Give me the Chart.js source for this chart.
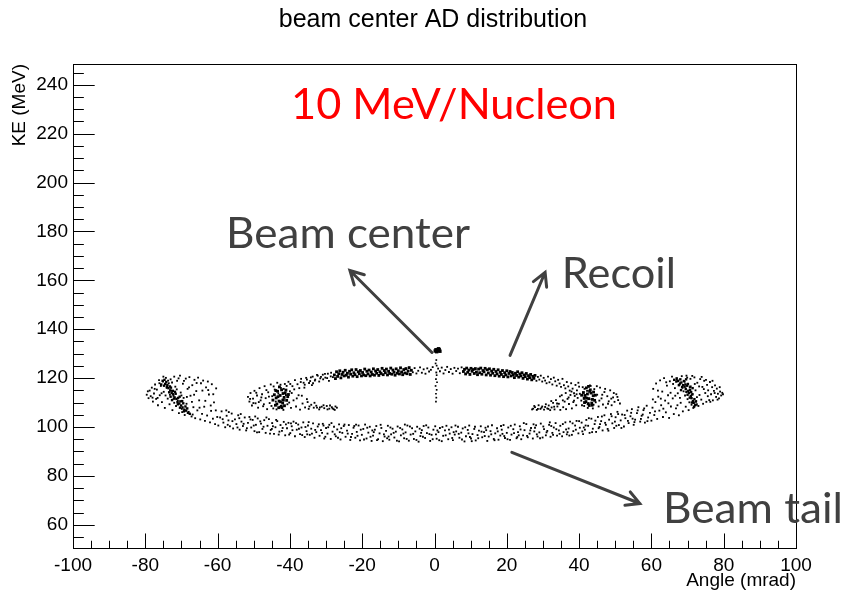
<!DOCTYPE html>
<html>
<head>
<meta charset="utf-8">
<script src="https://cdn.jsdelivr.net/npm/chart.js@4/dist/chart.umd.min.js"></script>
<style>
  html, body { margin: 0; padding: 0; background: #ffffff; }
  canvas { display: block; }
</style>
</head>
<body>
<canvas id="c" width="846" height="595"></canvas>
<script>
// ---------------- DATA ----------------
const chartTitle = 'beam center AD distribution';
const xTickValues = [-100, -80, -60, -40, -20, 0, 20, 40, 60, 80, 100];
const yTickValues = [60, 80, 100, 120, 140, 160, 180, 200, 220, 240];
const xRange = [-100, 100];
const yRange = [50.5, 248.5];

// Beam tail: left horn
const tailLeftHorn = [
[-79.6,113.2],[-79.1,111.8],[-78.8,114.9],[-78.5,112.6],[-78.2,116.1],[-77.9,110.4],[-77.6,113.7],[-77.3,117.4],[-77.0,111.5],[-76.8,115.3],[-76.5,108.9],[-76.2,119.2],[-76.0,113.0],[-75.7,116.8],[-75.4,110.2],[-75.1,118.6],[-74.9,114.4],[-74.6,107.8],[-74.3,120.1],[-74.1,116.0],[-73.8,111.6],[-73.5,117.9],[-73.3,109.3],[-73.0,119.5],[-72.8,114.8],[-72.5,106.9],[-72.2,112.7],[-72.0,120.6],[-71.7,116.5],[-71.5,108.6],[-71.2,118.9],[-71.0,110.8],[-70.7,105.7],[-70.4,121.0],[-70.2,114.1],[-69.9,107.4],[-69.6,117.7],[-69.4,111.9],[-69.1,104.9],[-68.8,119.8],[-68.6,109.5],[-68.3,115.6],[-68.0,106.2],[-67.8,120.4],[-67.5,112.8],[-67.2,104.3],[-67.0,117.1],[-66.7,108.1],[-66.4,119.3],[-66.2,103.6],[-65.9,114.7],[-65.6,106.8],[-65.4,120.2],[-65.1,110.9],[-64.8,103.1],[-64.6,117.9],[-64.3,105.4],[-64.0,119.0],[-63.7,108.3],[-63.5,102.5],[-63.2,116.2],[-62.9,104.7],[-62.7,118.6],[-62.4,113.3],[-62.1,101.9],[-61.8,106.6],[-61.6,117.5],[-61.3,103.4],[-61.0,110.1],[-60.7,101.2],[-60.4,115.8],[-60.1,104.1],
[-79.3,114.6],[-78.0,112.0],[-77.4,115.6],[-76.6,111.9],[-76.1,117.9],[-75.5,113.8],[-75.0,120.6],[-74.4,112.9],[-73.7,119.0],[-73.2,113.2],[-72.6,118.2],[-72.0,109.9],[-71.3,115.4],[-70.8,119.9],[-70.0,112.9],[-69.3,118.9],[-68.5,112.3],[-67.9,116.2],[-67.1,110.3],[-66.5,113.2],[-65.8,118.0],[-65.0,107.9],[-64.2,114.9],[-63.4,110.7],[-62.6,115.1],[-61.9,108.8],[-61.2,113.4],[-60.5,106.8],[-66.9,105.1],[-69.8,106.1]
];
// Beam tail: dense streaks inside both horns
const tailHornCores = [
[-74.5,117.6],[-74.0,116.4],[-73.6,115.9],[-73.1,115.0],[-72.7,113.9],[-72.3,113.4],[-71.9,112.1],[-71.4,111.5],[-71.1,110.2],[-70.6,109.6],[-70.1,108.8],[-69.7,108.0],[-69.2,107.1],[-68.7,106.7],[-68.2,105.8],[-73.9,117.2],[-73.2,116.6],[-72.4,114.8],[-71.6,113.6],[-70.9,111.9],[-70.3,110.5],[-69.5,109.7],[-68.9,108.4],
[-75.2,118.9],[-74.8,116.9],[-74.2,118.4],[-73.4,114.2],[-72.9,116.1],[-72.1,111.6],[-71.8,114.4],[-71.0,109.3],[-70.5,112.4],[-69.8,110.6],[-69.3,106.4],[-68.4,107.6],[-67.7,105.4],[-75.6,117.4],[-74.7,119.3],[-73.0,112.4],[-70.4,107.9],[-72.6,111.0],
[66.3,119.3],[66.9,118.6],[67.4,118.9],[67.9,117.8],[68.3,118.2],[68.8,117.1],[69.2,116.5],[69.5,115.6],[69.9,116.9],[70.2,114.8],[70.4,113.9],[70.7,115.2],[70.9,112.7],[71.1,111.8],[71.3,113.3],[71.5,110.6],[71.7,109.9],[71.9,111.4],[72.1,108.9],[70.1,117.6],[69.0,118.8],[71.0,114.3],
[67.0,119.9],[67.6,117.1],[68.0,119.5],[68.5,116.4],[69.4,117.4],[69.7,114.4],[70.0,113.2],[70.6,112.0],[71.2,110.0],[71.8,108.3],[72.3,110.4],[70.8,116.5],[69.6,119.5],[72.5,109.2],[71.4,115.9],[68.2,115.1]
];
// Beam tail: lower band
const tailBand = [
[-59.8,100.6],[-59.3,103.9],[-58.9,106.4],[-58.4,101.8],[-57.9,99.9],[-57.5,104.6],[-57.0,102.7],[-56.6,100.3],[-56.1,105.5],[-55.7,99.4],[-55.2,103.1],[-54.8,101.2],[-54.3,104.8],[-53.9,98.9],[-53.4,102.2],[-53.0,100.4],[-52.5,103.9],[-52.1,98.6],[-51.6,101.7],[-51.2,104.1],[-50.7,99.8],[-50.3,102.9],[-49.8,98.3],[-49.4,100.9],[-48.9,103.5],[-48.5,97.9],[-48.0,101.4],[-47.6,99.2],[-47.1,102.8],[-46.7,97.6],[-46.2,100.5],[-45.8,103.2],[-45.3,98.8],[-44.9,101.6],[-44.4,97.2],[-44.0,99.9],[-43.5,102.4],[-43.1,96.9],[-42.6,100.8],[-42.2,98.4],[-41.7,102.1],[-41.3,96.6],[-40.8,99.5],[-40.4,101.7],[-39.9,97.5],
[-39.5,100.3],[-39.0,102.2],[-38.6,96.2],[-38.1,98.9],[-37.7,101.0],[-37.2,97.1],[-36.8,99.8],[-36.3,101.9],[-35.9,95.9],[-35.4,98.3],[-35.0,100.6],[-34.5,96.8],[-34.1,99.3],[-33.6,101.5],[-33.2,95.6],[-32.7,97.9],[-32.3,100.2],[-31.8,96.4],[-31.4,98.7],[-30.9,101.3],[-30.5,95.3],[-30.0,99.6],[-29.6,97.3],[-29.1,100.9],[-28.7,95.1],[-28.2,98.1],[-27.8,100.1],[-27.3,96.2],[-26.9,99.0],[-26.4,101.1],[-26.0,94.9],[-25.5,97.6],[-25.1,100.4],[-24.6,96.0],[-24.2,98.5],[-23.7,100.8],[-23.3,94.7],[-22.8,97.2],[-22.4,99.7],[-21.9,95.6],[-21.5,98.0],[-21.0,100.6],[-20.6,94.5],[-20.1,96.8],
[-19.7,99.2],[-19.2,101.0],[-18.8,95.3],[-18.3,97.7],[-17.9,100.1],[-17.4,94.3],[-17.0,96.5],[-16.5,98.9],[-16.1,100.4],[-15.6,95.0],[-15.2,97.4],[-14.7,99.6],[-14.3,94.2],[-13.8,96.1],[-13.4,98.4],[-12.9,100.5],[-12.5,94.8],[-12.0,97.0],[-11.6,99.3],[-11.1,95.7],[-10.7,98.1],[-10.2,100.2],[-9.8,94.1],[-9.3,96.6],[-8.9,99.0],[-8.4,95.4],[-8.0,97.8],[-7.5,100.6],[-7.1,94.4],[-6.6,96.9],[-6.2,99.5],[-5.7,95.1],[-5.3,98.2],[-4.8,100.1],[-4.4,94.0],[-3.9,96.3],[-3.5,98.7],[-3.0,100.4],[-2.6,95.5],[-2.1,97.5],[-1.7,99.8],[-1.2,94.3],[-0.8,96.8],[-0.3,98.9],
[0.2,100.3],[0.6,95.2],[1.1,97.9],[1.5,99.6],[2.0,94.2],[2.4,96.4],[2.9,98.6],[3.3,100.5],[3.8,95.0],[4.2,97.3],[4.7,99.9],[5.1,94.6],[5.6,96.9],[6.0,98.2],[6.5,100.1],[6.9,95.6],[7.4,97.7],[7.8,99.4],[8.3,94.1],[8.7,96.2],[9.2,98.8],[9.6,100.6],[10.1,95.3],[10.5,97.1],[11.0,99.2],[11.4,94.5],[11.9,96.7],[12.3,98.5],[12.8,100.3],[13.2,95.8],[13.7,97.9],[14.1,99.7],[14.6,94.3],[15.0,96.1],[15.5,98.3],[15.9,100.7],[16.4,95.1],[16.8,97.4],[17.3,99.5],[17.7,94.8],[18.2,96.5],[18.6,98.9],[19.1,100.8],[19.5,95.5],
[20.0,97.6],[20.4,99.8],[20.9,94.7],[21.3,96.9],[21.8,99.1],[22.2,101.0],[22.7,95.4],[23.1,97.9],[23.6,100.3],[24.0,95.0],[24.5,96.6],[24.9,98.7],[25.4,101.2],[25.8,95.8],[26.3,97.3],[26.7,99.6],[27.2,95.3],[27.6,98.2],[28.1,100.7],[28.5,96.1],[29.0,97.8],[29.4,101.4],[29.9,95.7],[30.3,99.1],[30.8,96.6],[31.2,98.4],[31.7,100.9],[32.1,96.0],[32.6,97.6],[33.0,99.8],[33.5,101.6],[33.9,96.5],[34.4,98.6],[34.8,100.5],[35.3,96.2],[35.7,97.9],[36.2,101.9],[36.6,97.0],[37.1,99.4],[37.5,102.2],[38.0,96.8],[38.4,98.3],[38.9,100.6],[39.3,102.5],[39.8,97.4],
[40.2,99.7],[40.7,101.8],[41.1,97.1],[41.6,98.9],[42.0,102.9],[42.5,100.5],[42.9,97.6],[43.4,103.4],[43.8,99.3],[44.3,101.2],[44.7,98.0],[45.2,104.1],[45.6,100.0],[46.1,102.4],[46.5,98.6],[47.0,104.8],[47.4,100.9],[47.9,99.2],[48.3,103.0],[48.8,105.3],[49.2,101.5],[49.7,99.6],[50.1,104.0],[50.6,106.2],[51.0,100.8],[51.5,102.7],[51.9,105.1],[52.4,100.2],[52.8,103.6],[53.3,106.7],[53.7,101.6],[54.2,104.4],[54.6,107.3],[55.1,100.9],[55.5,103.0],[56.0,105.7],[56.4,108.1],[56.9,102.2],[57.3,104.6],[57.8,106.9],[58.2,101.8],[58.7,108.7],[59.1,103.9],[59.6,105.8]
];
const tailBandExtra = [
[-58.6,103.2],[-57.2,100.9],[-56.9,106.1],[-55.9,102.4],[-54.5,99.8],[-53.6,105.3],[-52.8,101.3],[-51.9,99.5],[-50.9,103.1],[-50.0,100.6],[-49.1,97.8],[-48.2,102.3],[-47.3,100.1],[-46.5,103.9],[-45.5,97.3],[-44.7,100.3],[-43.8,102.9],[-42.9,98.1],[-42.0,99.6],[-41.1,101.1],[-40.2,96.9],[-39.3,98.7],[-38.3,101.6],[-37.5,99.3],[-36.6,96.7],[-35.7,100.0],[-34.8,102.0],[-33.9,97.3],[-33.0,98.8],[-32.0,101.1],[-31.1,97.6],[-30.2,96.0],[-29.4,99.9],[-28.5,101.6],[-27.6,97.0],[-26.7,95.6],[-25.8,99.5],[-24.9,101.0],[-24.0,97.3],[-23.1,95.9],[-22.2,100.4],[-21.3,96.4],[-20.4,98.9],[-19.5,94.9],[-18.6,99.7],[-17.7,96.0],[-16.8,97.9],[-15.9,94.6],[-14.9,100.9],[-14.0,97.0],[-13.1,95.4],[-12.2,99.8],[-11.3,97.6],[-10.4,94.4],[-9.5,99.6],[-8.6,97.3],[-7.7,95.1],[-6.8,100.2],[-5.9,97.2],[-5.0,94.7],[-4.1,99.3],[-3.2,96.0],[-2.3,100.7],[-1.4,97.1],[-0.5,95.0],[0.4,97.0],[1.3,94.6],[2.2,100.0],[3.1,96.6],[4.0,98.9],[4.9,95.5],[5.8,100.6],[6.7,97.2],[7.6,94.9],[8.5,99.9],[9.4,97.4],[10.3,94.2],[11.2,100.1],[12.1,95.4],[13.0,98.1],[13.9,96.3],[14.8,100.2],[15.7,97.0],[16.6,94.6],[17.5,98.2],[18.4,100.4],[19.3,96.3],[20.2,95.0],[21.1,100.5],[22.0,97.5],[22.9,95.9],[23.8,99.0],[24.7,101.6],[25.6,96.4],[26.5,98.6],[27.4,101.1],[28.3,97.0],[29.2,95.4],[30.1,100.2],[31.0,97.8],[31.9,101.9],[32.8,96.8],[33.7,99.1],[34.6,97.2],[35.5,101.2],[36.4,99.0],[37.3,96.5],[38.2,101.5],[39.1,98.9],[40.0,102.4],[40.9,98.2],[41.8,100.6],[42.7,103.6],[43.6,97.9],[44.5,102.6],[45.4,99.5],[46.3,104.3],[47.2,101.7],[48.1,98.5],[49.0,104.4],[49.9,102.2],[50.8,105.3],[51.7,99.6],[52.6,104.9],[53.5,102.5],[54.4,105.8],[55.3,102.0],[56.2,106.8],[57.1,103.3],[58.0,107.6],[58.9,102.4],
[-57.6,106.8],[-54.0,103.6],[-49.6,104.3],[-45.0,99.2],[-39.7,101.5],[-35.2,97.0],[-30.7,100.6],[-26.2,97.9],[-21.7,101.0],[-17.2,98.6],[-12.7,96.1],[-8.2,101.0],[-3.7,97.6],[0.8,98.6],[5.3,97.9],[9.8,95.9],[14.3,98.7],[18.8,97.2],[23.3,96.6],[27.8,99.7],[32.3,100.4],[36.8,97.9],[41.3,99.8],[45.8,101.2],[50.3,100.5],[54.8,103.4],[57.6,105.1]
];
// Beam tail: right horn
const tailRightHorn = [
[60.0,102.6],[60.3,107.9],[60.5,115.6],[60.8,104.9],[61.1,110.2],[61.3,117.8],[61.6,103.3],[61.9,112.4],[62.2,106.7],[62.4,119.1],[62.7,108.9],[63.0,114.5],[63.2,104.1],[63.5,120.0],[63.8,110.8],[64.0,106.0],[64.3,116.9],[64.6,113.0],[64.9,103.7],[65.1,118.7],[65.4,108.4],[65.7,120.6],[65.9,111.7],[66.2,105.3],[66.5,115.9],[66.8,107.6],[67.0,119.4],[67.3,113.8],[67.6,104.8],[67.8,117.3],[68.1,109.9],[68.4,120.8],[68.7,106.4],[68.9,114.6],[69.2,118.5],[69.5,108.3],[69.7,121.0],[70.0,111.4],[70.3,106.9],[70.6,116.2],[70.8,119.7],[71.1,109.1],[71.4,113.5],[71.6,107.8],[71.9,120.3],[72.2,115.0],[72.4,110.6],[72.7,118.1],[73.0,108.6],[73.3,113.1],[73.5,119.6],[73.8,111.2],[74.1,116.4],[74.3,109.5],[74.6,118.9],[74.9,113.9],[75.2,110.3],[75.4,117.2],[75.7,115.0],[76.0,111.0],[76.2,118.4],[76.5,113.4],[76.8,116.3],[77.0,110.9],[77.3,114.8],[77.6,117.0],[77.9,112.3],[78.1,115.7],[78.4,113.6],[78.7,111.7],[79.0,114.5],[79.3,112.9],[79.6,114.0],
[79.8,113.4],[78.9,116.3],[78.3,111.2],[77.5,113.9],[76.9,118.9],[76.3,110.3],[75.6,112.6],[75.1,119.3],[74.5,115.5],[73.9,120.5],[73.2,116.6],[72.6,112.2],[72.0,117.6],[71.3,120.9],[70.5,110.1],[69.9,120.2],[69.3,112.9],[68.6,116.0],[67.9,111.9],[67.2,108.9],[66.6,112.8],[66.0,117.6],[65.3,114.0],[64.7,109.7],[64.1,118.3],[63.3,107.5],[62.6,111.6],[61.8,114.9],[61.0,106.4],[60.4,111.3]
];

// Recoil: sparse parts (lobes, lower arms, ends of the upper arc)
const recoilSparse = [
[-51.6,112.3],[-51.2,110.4],[-50.9,113.9],[-50.5,108.8],[-50.2,111.6],[-49.8,114.8],[-49.5,109.7],[-49.1,112.9],[-48.8,107.9],[-48.4,115.9],[-48.1,110.9],[-47.7,113.4],[-47.4,108.5],[-47.0,116.7],[-46.7,111.8],[-46.3,107.3],[-46.0,114.2],[-45.6,109.8],[-45.3,117.4],[-44.9,112.6],[-44.6,107.6],[-44.2,115.3],[-43.9,110.4],[-43.5,118.1],[-43.2,113.7],[-42.8,108.2],[-42.5,116.0],[-42.1,111.2],[-41.8,107.0],[-41.4,117.6],[-41.1,113.1],[-40.7,109.3],[-40.4,118.5],[-40.0,114.6],[-39.7,107.8],[-39.3,116.7],[-39.0,110.9],[-38.6,119.2],[-38.3,108.4],[-37.9,117.5],[-37.6,113.0],[-37.2,107.1],[-36.9,119.7],[-36.5,109.6],[-36.2,118.1],[-35.8,108.0],[-35.5,120.1],[-35.1,110.2],[-34.8,107.4],[-34.4,118.8],[-34.1,109.1],[-33.7,120.6],[-33.4,107.9],[-33.0,119.4],[-32.7,108.7],[-32.3,121.0],[-31.9,107.2],[-31.6,119.9],[-31.2,108.3],[-30.9,121.4],[-30.5,107.7],[-30.2,120.2],[-29.8,108.6],[-29.5,121.8],[-29.1,107.5],[-28.7,120.7],[-28.4,108.1],[-27.9,107.3],[-27.4,108.4],[-27.0,107.9],
[-35.9,117.3],[-35.3,119.4],[-34.7,118.0],[-34.2,120.3],[-33.6,117.9],[-33.1,119.0],[-32.5,121.3],[-31.9,118.6],[-31.4,120.5],[-30.8,119.5],[-30.3,121.7],[-29.7,120.0],[-29.2,118.9],[-28.6,122.2],[-28.1,120.4],
[-6.0,122.4],[-5.5,124.1],[-5.0,121.9],[-4.5,123.0],[-4.0,124.4],[-3.5,122.2],[-3.0,123.6],[-2.5,121.8],[-2.0,124.0],[-1.5,122.7],[-1.0,123.4],[-0.5,124.5],[0.5,122.3],[1.0,123.9],[1.5,122.8],[2.0,124.3],[2.5,121.9],[3.0,123.3],[3.5,124.6],[4.0,122.5],[4.5,123.7],[5.0,121.8],[5.5,124.2],[6.0,122.9],[6.5,123.9],[7.0,122.0],[7.5,124.4],
[28.2,118.9],[28.6,120.5],[29.0,119.4],[29.4,121.0],[29.8,118.6],[30.2,120.1],[30.6,119.0],[31.0,117.9],[31.4,120.6],[31.8,118.3],[32.2,119.6],[32.6,117.4],[33.0,120.2],[33.4,118.7],[33.8,116.9],[34.2,119.3],[34.6,117.8],[35.0,116.4],[35.4,119.7],[35.8,117.1],[36.2,115.8],[36.6,118.4],[37.0,116.6],[37.4,114.9],[37.8,117.9],[38.2,115.7],[38.6,113.8],[39.0,117.2],[39.4,115.0],[39.8,118.1],
[40.2,113.6],[40.6,110.8],[41.0,116.3],[41.4,108.6],[41.8,112.2],[42.2,114.8],[42.6,109.7],[43.0,117.0],[43.4,111.3],[43.8,107.6],[44.2,115.5],[44.6,110.1],[45.0,113.2],[45.4,108.4],[45.8,116.1],[46.2,111.7],[46.6,109.2],[47.0,114.3],[47.4,107.9],[47.8,112.6],[48.2,110.5],[48.6,115.0],[49.0,108.9],[49.4,112.1],[49.8,110.3],[50.3,113.4],[50.8,111.0],[51.3,109.6],[39.6,111.9],[39.2,108.9],[38.8,112.7],[38.4,110.2],[38.0,107.6],[37.6,113.1],[37.2,109.4],[36.8,111.5],[36.4,107.3],[36.0,110.4],[35.6,108.1],[35.2,113.0],[34.8,107.0],[34.4,109.5],[34.0,108.4],[33.6,111.0],[33.2,107.2],[32.8,109.9],[32.4,108.0],[32.0,106.9],[31.6,108.8],[31.2,107.6],[30.8,109.3],[30.3,107.1],[29.8,108.4],[29.3,107.4],[28.8,108.9],[28.3,107.0],[27.8,108.1],[27.3,107.5]
];
const recoilLobeExtra = [
[-51.0,111.5],[-50.1,109.8],[-49.3,114.0],[-48.6,110.2],[-47.9,112.1],[-47.2,109.3],[-46.5,115.1],[-45.8,112.4],[-45.1,108.6],[-44.5,116.6],[-43.7,107.2],[-42.6,117.3],[-41.7,115.6],[-40.9,116.8],[-40.2,110.0],[-39.5,113.9],[-38.8,115.4],[-38.1,111.7],[-37.4,115.9],[-36.7,112.8],[-36.0,116.1],[-35.3,111.4],[-34.6,108.4],[-33.9,117.1],[-33.2,109.9],[-32.5,107.9],[-31.7,108.0],[-30.7,108.9],[-29.6,107.2],[-28.9,108.8],[-28.2,107.6],[-27.6,107.0],[-37.0,118.4],[-39.9,117.6],
[50.6,112.3],[49.6,113.9],[48.9,111.6],[48.0,109.5],[47.2,115.6],[46.4,113.2],[45.6,110.8],[44.9,116.7],[44.0,109.1],[43.2,116.8],[42.4,107.8],[41.5,115.6],[40.8,108.9],[40.0,116.5],[39.3,113.4],[38.6,110.8],[37.9,114.5],[37.1,112.1],[36.3,113.9],[35.5,110.9],[34.7,112.5],[33.9,109.6],[33.1,108.3],[32.3,110.6],[31.5,107.4],[30.6,108.2],[29.6,107.9],[28.6,107.4],[27.6,108.6],[27.0,107.2]
];
// Recoil: dense parts (upper arc and lobe cores)
const recoilDense = [
[-27.7,121.3],[-27.4,119.8],[-27.1,122.6],[-26.8,120.7],[-26.5,121.8],[-26.2,123.0],[-25.9,120.1],[-25.6,121.5],[-25.3,122.4],[-25.0,120.9],[-24.7,123.2],[-24.4,121.2],[-24.1,122.0],[-23.8,120.4],[-23.5,122.8],[-23.2,121.6],[-22.9,123.4],[-22.6,120.8],[-22.3,122.2],[-22.0,121.4],[-21.7,123.5],[-21.4,120.6],[-21.1,122.6],[-20.8,121.8],[-20.5,123.1],[-20.2,120.9],[-19.9,122.3],[-19.6,121.3],[-19.3,123.7],[-19.0,121.0],[-18.7,122.8],[-18.4,121.7],[-18.1,123.3],[-17.8,120.9],[-17.5,122.5],[-17.2,121.5],[-16.9,123.8],[-16.6,121.2],[-16.3,122.9],[-16.0,122.0],[-15.7,123.5],[-15.4,121.1],[-15.1,122.6],[-14.8,121.9],[-14.5,124.0],[-14.2,121.4],[-13.9,123.1],[-13.6,122.2],[-13.3,123.7],[-13.0,121.3],[-12.7,122.8],[-12.4,121.9],[-12.1,124.1],[-11.8,121.6],[-11.5,123.3],[-11.2,122.4],[-10.9,121.2],[-10.6,123.8],[-10.3,122.0],[-10.0,123.0],[-9.7,121.7],[-9.4,124.2],[-9.1,122.5],[-8.8,121.4],[-8.5,123.5],[-8.2,122.1],[-7.9,123.9],[-7.6,121.8],[-7.3,122.9],[-7.0,124.3],[-6.7,121.5],[-6.4,123.2],
[8.0,122.7],[8.3,123.6],[8.6,121.7],[8.9,124.1],[9.2,122.4],[9.5,123.3],[9.8,121.5],[10.1,124.0],[10.4,122.8],[10.7,123.5],[11.0,121.9],[11.3,123.9],[11.6,122.5],[11.9,121.4],[12.2,123.7],[12.5,122.2],[12.8,124.1],[13.1,121.6],[13.4,123.1],[13.7,122.6],[14.0,124.0],[14.3,121.3],[14.6,123.4],[14.9,122.1],[15.2,123.8],[15.5,121.2],[15.8,122.9],[16.1,122.0],[16.4,123.6],[16.7,121.0],[17.0,122.7],[17.3,121.7],[17.6,123.4],[17.9,120.8],[18.2,122.4],[18.5,121.5],[18.8,123.1],[19.1,120.6],[19.4,122.2],[19.7,121.3],[20.0,123.0],[20.3,120.5],[20.6,121.9],[20.9,122.7],[21.2,120.9],[21.5,122.3],[21.8,121.4],[22.1,120.2],[22.4,122.0],[22.7,121.1],[23.0,122.6],[23.3,120.4],[23.6,121.7],[23.9,120.9],[24.2,122.2],[24.5,119.9],[24.8,121.3],[25.1,120.6],[25.4,121.9],[25.7,119.6],[26.0,121.0],[26.3,120.2],[26.6,121.5],[26.9,119.3],[27.2,120.7],[27.5,119.9],[27.8,121.1],
[-44.3,113.2],[-43.8,111.9],[-43.4,114.6],[-43.0,110.6],[-42.7,112.9],[-42.3,115.2],[-42.0,109.8],[-41.6,112.1],[-41.3,114.0],[-40.9,110.9],[-43.6,109.4],[-42.9,116.4],[-41.9,113.7],[-41.5,108.7],[-40.6,112.4],[-44.0,108.9],[-43.1,107.9],[-42.4,108.5],
[-44.7,111.0],[-43.9,114.9],[-43.3,112.4],[-42.6,110.3],[-41.8,111.0],[-41.1,115.1],[-40.4,113.3],[-42.2,107.9],
[41.2,114.1],[41.6,112.9],[41.9,110.4],[42.3,113.5],[42.7,111.6],[43.1,115.2],[43.5,109.8],[43.9,112.8],[44.3,110.9],[42.0,116.0],[42.8,108.8],[43.3,113.9],[41.4,111.7],[44.0,114.3],[42.5,109.5],
[40.7,113.0],[41.5,110.0],[42.1,111.8],[42.9,114.6],[43.7,111.3],[44.5,113.0],[42.6,116.6],[43.6,108.9]
];
// Beam center: spot and thin vertical trail
const beamCenterSpot = [[0.4,131.6],[0.9,131.2],[1.3,131.7],[0.6,130.8],[1.1,132.0],[1.5,131.0],[0.2,131.1],[0.8,131.5]];
const beamCenterTrail = [[0.5,127.4],[0.3,126.0],[0.6,125.1],[0.4,119.6],[0.7,118.3],[0.3,116.8],[0.6,115.2],[0.4,113.6],[0.5,112.0],[0.6,121.2],[0.4,110.4]];

// Annotations (text and arrows, anchored in data units)
const annotationTexts = [
  { text: '10 MeV/Nucleon', x: 5.4, y: 226.2, color: '#ff0000' },
  { text: 'Beam center',    x: -23.9, y: 173.1, color: '#404040' },
  { text: 'Recoil',         x: 51.0, y: 156.7, color: '#404040' },
  { text: 'Beam tail',      x: 88.1, y: 60.9, color: '#404040' }
];
const annotationWidths = [326, 244, 114, 180];
const annotationArrows = [
  { from: [-0.7, 130.5], to: [-23.4, 164.0] },
  { from: [20.9, 129.3], to: [30.6, 163.3] },
  { from: [21.4, 89.6],  to: [56.8, 68.7] }
];

// ---------------- CHART ----------------
const toPts = arr => arr.map(p => ({ x: p[0], y: p[1] }));
function dotSet(label, arr, r) {
  return {
    label, data: toPts(arr), pointStyle: 'rect', pointRadius: r, pointHoverRadius: r,
    backgroundColor: '#000000', borderWidth: 0, showLine: false
  };
}

const rootFrame = {
  id: 'rootFrame',
  afterDraw(chart) {
    const { ctx, chartArea: a, scales: { x, y } } = chart;
    ctx.save();
    ctx.strokeStyle = '#000000';
    ctx.lineWidth = 1;
    ctx.strokeRect(Math.round(a.left) + 0.5, Math.round(a.top) + 0.5,
                   Math.round(a.right - a.left), Math.round(a.bottom - a.top));
    const h = a.bottom - a.top, w = a.right - a.left;
    const xMajor = 0.03 * h, yMajor = 0.03 * w;
    ctx.beginPath();
    for (let v = -95; v <= 95; v += 5) {
      const px = Math.round(x.getPixelForValue(v)) + 0.5;
      const len = (v % 20 === 0) ? xMajor : xMajor / 2;
      ctx.moveTo(px, a.bottom); ctx.lineTo(px, a.bottom - len);
    }
    for (let v = 55; v <= 245; v += 5) {
      const py = Math.round(y.getPixelForValue(v)) + 0.5;
      const len = (v % 20 === 0) ? yMajor : yMajor / 2;
      ctx.moveTo(a.left, py); ctx.lineTo(a.left + len, py);
    }
    ctx.stroke();

    // title
    ctx.fillStyle = '#000000';
    ctx.font = '25px "Liberation Sans", Arial, sans-serif';
    ctx.textAlign = 'center';
    ctx.textBaseline = 'alphabetic';
    ctx.fillText(chartTitle, 433, 27);

    // arrows
    ctx.strokeStyle = '#404040';
    ctx.lineWidth = 3;
    ctx.lineCap = 'round';
    annotationArrows.forEach(ar => {
      const x0 = x.getPixelForValue(ar.from[0]), y0 = y.getPixelForValue(ar.from[1]);
      const x1 = x.getPixelForValue(ar.to[0]),   y1 = y.getPixelForValue(ar.to[1]);
      const ang = Math.atan2(y1 - y0, x1 - x0);
      const hl = 15, ha = 0.5;
      ctx.beginPath();
      ctx.moveTo(x0, y0); ctx.lineTo(x1, y1);
      ctx.moveTo(x1 - hl * Math.cos(ang - ha), y1 - hl * Math.sin(ang - ha));
      ctx.lineTo(x1, y1);
      ctx.lineTo(x1 - hl * Math.cos(ang + ha), y1 - hl * Math.sin(ang + ha));
      ctx.stroke();
    });

    // annotation texts
    annotationTexts.forEach((t, i) => {
      const cx = x.getPixelForValue(t.x), by = y.getPixelForValue(t.y);
      ctx.font = '43px Lato, "Open Sans", sans-serif';
      const mw = ctx.measureText(t.text).width;
      ctx.save();
      ctx.translate(cx, by);
      ctx.scale(annotationWidths[i] / mw, 1);
      ctx.fillStyle = t.color;
      ctx.textAlign = 'center';
      ctx.textBaseline = 'alphabetic';
      ctx.fillText(t.text, 0, 0);
      ctx.restore();
    });
    ctx.restore();
  }
};

const tickFont = { family: '"Liberation Sans", Arial, sans-serif', size: 19 };

new Chart(document.getElementById('c'), {
  type: 'scatter',
  data: {
    datasets: [
      dotSet('Beam tail (left horn)', tailLeftHorn, 1.3),
      dotSet('Beam tail (band)', tailBand, 1.3),
      dotSet('Beam tail (band, more)', tailBandExtra, 1.3),
      dotSet('Beam tail (right horn)', tailRightHorn, 1.3),
      dotSet('Beam tail (horn cores)', tailHornCores, 1.7),
      dotSet('Recoil', recoilSparse, 1.3),
      dotSet('Recoil (lobes, more)', recoilLobeExtra, 1.3),
      dotSet('Recoil (dense)', recoilDense, 2.0),
      dotSet('Beam center', beamCenterSpot, 2.4),
      dotSet('Beam center trail', beamCenterTrail, 1.2)
    ]
  },
  options: {
    responsive: false,
    animation: false,
    devicePixelRatio: 1,
    layout: { padding: { top: 64, right: 50, left: 0, bottom: 0 } },
    plugins: { legend: { display: false }, tooltip: { enabled: false }, title: { display: false } },
    scales: {
      x: {
        type: 'linear', position: 'bottom', min: xRange[0], max: xRange[1],
        afterBuildTicks: s => { s.ticks = xTickValues.map(v => ({ value: v })); },
        afterFit: s => { s.height = 47; },
        grid: { display: false, drawTicks: false },
        border: { display: false },
        ticks: { color: '#000000', font: tickFont, padding: 6, maxRotation: 0, autoSkip: false },
        title: { display: true, text: 'Angle (mrad)', align: 'end', color: '#000000',
                 font: { family: '"Liberation Sans", Arial, sans-serif', size: 19 }, padding: { top: 0, bottom: 3 } }
      },
      y: {
        type: 'linear', position: 'left', min: yRange[0], max: yRange[1],
        afterBuildTicks: s => { s.ticks = yTickValues.map(v => ({ value: v })); },
        afterFit: s => { s.width = 73; },
        grid: { display: false, drawTicks: false },
        border: { display: false },
        ticks: { color: '#000000', font: tickFont, padding: 5, autoSkip: false },
        title: { display: true, text: 'KE (MeV)', align: 'end', color: '#000000',
                 font: { family: '"Liberation Sans", Arial, sans-serif', size: 19 }, padding: { top: 8, bottom: 0 } }
      }
    }
  },
  plugins: [rootFrame]
});
</script>
</body>
</html>
